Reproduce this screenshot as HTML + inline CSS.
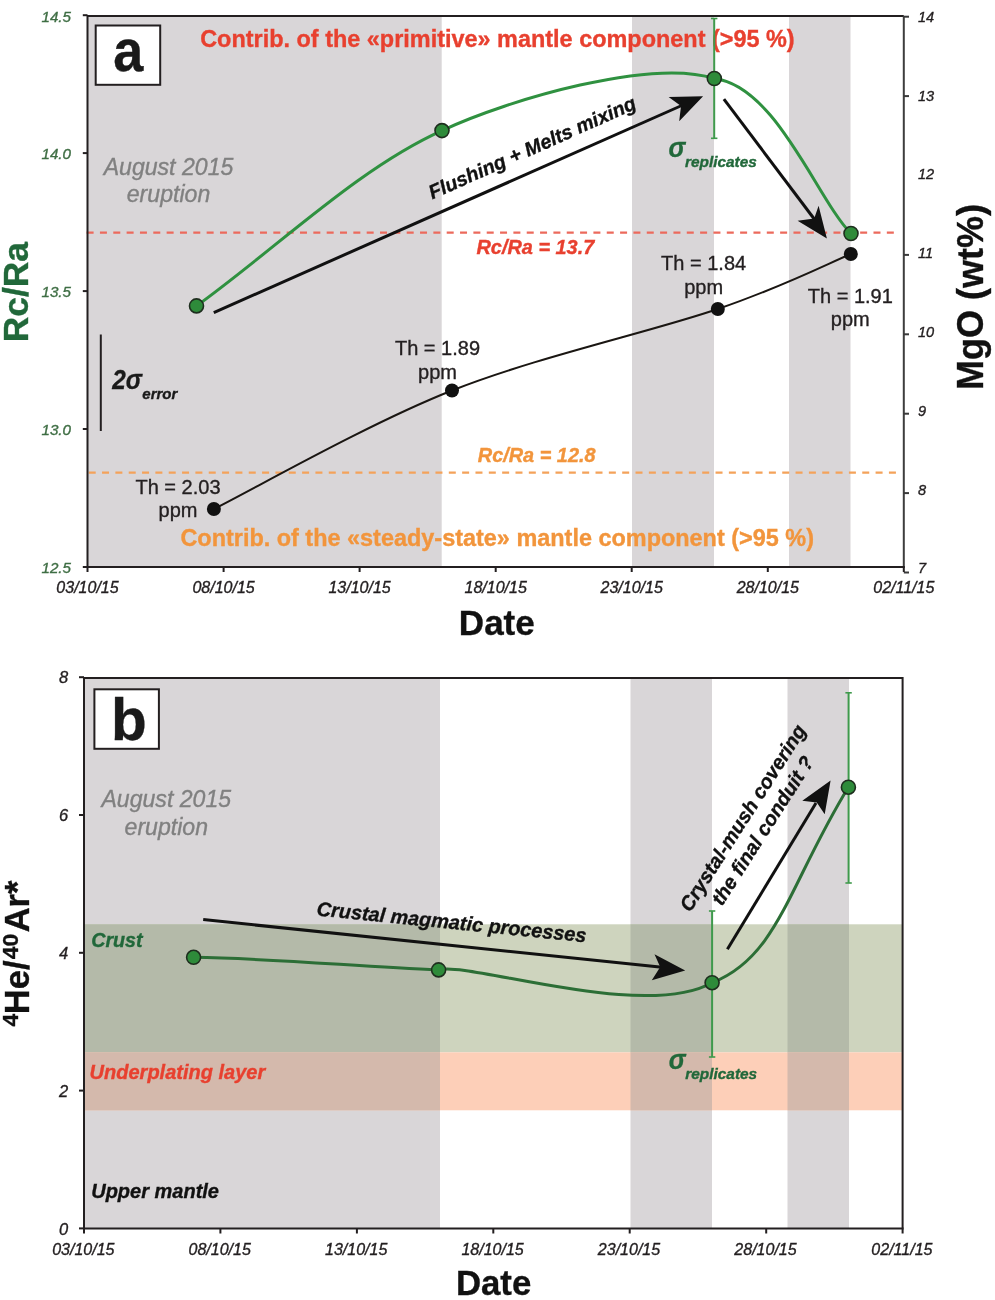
<!DOCTYPE html><html><head><meta charset="utf-8"><style>html,body{margin:0;padding:0;background:#fff;}svg{display:block;will-change:transform;}text{font-family:"Liberation Sans",sans-serif;}</style></head><body>
<svg width="995" height="1300" viewBox="0 0 995 1300">
<rect width="995" height="1300" fill="#fff"/>
<rect x="87.5" y="16.0" width="354.2" height="551.0" fill="#d9d6d8"/>
<rect x="632.0" y="16.0" width="82.0" height="551.0" fill="#d9d6d8"/>
<rect x="789.0" y="16.0" width="61.5" height="551.0" fill="#d9d6d8"/>
<line x1="86.6" y1="232.7" x2="897" y2="232.7" stroke="#ec6a5c" stroke-width="2.2" stroke-dasharray="7 6.337"/>
<line x1="88.7" y1="472.7" x2="897" y2="472.7" stroke="#f4a25a" stroke-width="2.2" stroke-dasharray="7 6.337"/>
<rect x="95.7" y="25.5" width="64.5" height="59.3" fill="#fff" stroke="#231f20" stroke-width="2"/>
<text x="0" y="0" font-size="60" font-weight="bold" fill="#1a1a1a" transform="translate(113.2 71.1) scale(0.9 1)" stroke="#1a1a1a" stroke-width="0.35">a</text>
<text x="200.2" y="46.8" font-size="23.45" font-weight="bold" fill="#e8402f" stroke="#e8402f" stroke-width="0.35">Contrib. of the «primitive» mantle component (&gt;95 %)</text>
<text x="168.5" y="174.6" font-size="23.1" font-style="italic" fill="#808080" text-anchor="middle" stroke="#808080" stroke-width="0.35">August 2015</text>
<text x="168.5" y="202.3" font-size="23.1" font-style="italic" fill="#808080" text-anchor="middle" stroke="#808080" stroke-width="0.35">eruption</text>
<text x="476.5" y="253.6" font-size="19.9" font-weight="bold" font-style="italic" fill="#e8402f" stroke="#e8402f" stroke-width="0.35">Rc/Ra = 13.7</text>
<text x="477.8" y="462.2" font-size="19.9" font-weight="bold" font-style="italic" fill="#f2953c" stroke="#f2953c" stroke-width="0.35">Rc/Ra = 12.8</text>
<text x="180.4" y="545.6" font-size="23.45" font-weight="bold" fill="#f2953c" stroke="#f2953c" stroke-width="0.35">Contrib. of the «steady-state» mantle component (&gt;95 %)</text>
<line x1="100.8" y1="334.5" x2="100.8" y2="431" stroke="#231f20" stroke-width="2"/>
<text x="0" y="0" font-size="28.3" font-weight="bold" font-style="italic" fill="#1a1a1a" transform="translate(112.3 388.5) scale(0.86 1)" stroke="#1a1a1a" stroke-width="0.35">2σ</text>
<text x="142.3" y="399" font-size="15" font-weight="bold" font-style="italic" fill="#1a1a1a" stroke="#1a1a1a" stroke-width="0.35">error</text>
<text x="178.0" y="493.7" font-size="20" fill="#231f20" text-anchor="middle" stroke="#231f20" stroke-width="0.35">Th = 2.03</text>
<text x="178.0" y="517.3" font-size="20" fill="#231f20" text-anchor="middle" stroke="#231f20" stroke-width="0.35">ppm</text>
<text x="437.5" y="354.9" font-size="20" fill="#231f20" text-anchor="middle" stroke="#231f20" stroke-width="0.35">Th = 1.89</text>
<text x="437.5" y="378.5" font-size="20" fill="#231f20" text-anchor="middle" stroke="#231f20" stroke-width="0.35">ppm</text>
<text x="703.6" y="270.0" font-size="20" fill="#231f20" text-anchor="middle" stroke="#231f20" stroke-width="0.35">Th = 1.84</text>
<text x="703.6" y="293.6" font-size="20" fill="#231f20" text-anchor="middle" stroke="#231f20" stroke-width="0.35">ppm</text>
<text x="850.3" y="302.8" font-size="20" fill="#231f20" text-anchor="middle" stroke="#231f20" stroke-width="0.35">Th = 1.91</text>
<text x="850.3" y="326.4" font-size="20" fill="#231f20" text-anchor="middle" stroke="#231f20" stroke-width="0.35">ppm</text>
<path d="M213.9,509.0 C253.6,489.2 368.0,423.8 452.0,390.5 C536.0,357.2 651.3,331.8 717.8,309.0 C784.3,286.2 828.6,263.2 850.8,254.0" fill="none" stroke="#1a1612" stroke-width="2"/>
<circle cx="213.9" cy="509.0" r="7" fill="#111"/>
<circle cx="452.0" cy="390.5" r="7" fill="#111"/>
<circle cx="717.8" cy="309.0" r="7" fill="#111"/>
<circle cx="850.8" cy="254.0" r="7" fill="#111"/>
<line x1="714.2" y1="18" x2="714.2" y2="138.5" stroke="#3f9a4c" stroke-width="2"/>
<line x1="711" y1="18.5" x2="717.4" y2="18.5" stroke="#3f9a4c" stroke-width="1.6"/>
<line x1="711" y1="138.3" x2="717.4" y2="138.3" stroke="#3f9a4c" stroke-width="1.6"/>
<path d="M196.5,305.9 C278.1,246.9 358.1,168.3 442.0,130.6 C509.9,98.9 651.6,58.3 714.3,78.5 C776.2,86.1 817.2,199.4 851.0,233.5" fill="none" stroke="#2f9140" stroke-width="3"/>
<circle cx="196.5" cy="305.9" r="7" fill="#2e8b3a" stroke="#1e2e1e" stroke-width="1.6"/>
<circle cx="442.0" cy="130.6" r="7" fill="#2e8b3a" stroke="#1e2e1e" stroke-width="1.6"/>
<circle cx="714.3" cy="78.5" r="7" fill="#2e8b3a" stroke="#1e2e1e" stroke-width="1.6"/>
<circle cx="851.0" cy="233.5" r="7" fill="#2e8b3a" stroke="#1e2e1e" stroke-width="1.6"/>
<line x1="213.8" y1="312.6" x2="684" y2="104.5" stroke="#111" stroke-width="3"/>
<path d="M703.1,96.3 L668.6,97.1 L681,106 L679.2,121.3 Z" fill="#111"/>
<line x1="723.9" y1="99.1" x2="815" y2="220" stroke="#111" stroke-width="3"/>
<path d="M826.9,238.4 L818.6,205.8 L814.2,218.5 L797.6,220.8 Z" fill="#111"/>
<text x="0" y="0" font-size="19.8" font-weight="bold" font-style="italic" fill="#111" transform="translate(432.2 199.6) rotate(-24)" stroke="#111" stroke-width="0.35">Flushing + Melts mixing</text>
<text x="0" y="0" font-size="27.5" font-weight="bold" font-style="italic" fill="#21683a" transform="translate(668.5 157.2) scale(0.92 1)" stroke="#21683a" stroke-width="0.35">σ</text>
<text x="685" y="167.2" font-size="15.4" font-weight="bold" font-style="italic" fill="#21683a" stroke="#21683a" stroke-width="0.35">replicates</text>
<path d="M87.5,567.0 L87.5,16.0 L903.8,16.0" fill="none" stroke="#231f20" stroke-width="2"/>
<line x1="903.8" y1="16.0" x2="903.8" y2="567.0" stroke="#3d3d3d" stroke-width="2"/>
<line x1="86.5" y1="567.0" x2="904.8" y2="567.0" stroke="#231f20" stroke-width="2"/>
<line x1="82.8" y1="15.2" x2="87.5" y2="15.2" stroke="#231f20" stroke-width="2"/>
<text x="71" y="21.5" font-size="15.2" font-style="italic" fill="#3f6e44" text-anchor="end" stroke="#3f6e44" stroke-width="0.35">14.5</text>
<line x1="82.8" y1="153.1" x2="87.5" y2="153.1" stroke="#231f20" stroke-width="2"/>
<text x="71" y="159.4" font-size="15.2" font-style="italic" fill="#3f6e44" text-anchor="end" stroke="#3f6e44" stroke-width="0.35">14.0</text>
<line x1="82.8" y1="291.1" x2="87.5" y2="291.1" stroke="#231f20" stroke-width="2"/>
<text x="71" y="297.4" font-size="15.2" font-style="italic" fill="#3f6e44" text-anchor="end" stroke="#3f6e44" stroke-width="0.35">13.5</text>
<line x1="82.8" y1="429.0" x2="87.5" y2="429.0" stroke="#231f20" stroke-width="2"/>
<text x="71" y="435.3" font-size="15.2" font-style="italic" fill="#3f6e44" text-anchor="end" stroke="#3f6e44" stroke-width="0.35">13.0</text>
<line x1="82.8" y1="567.0" x2="87.5" y2="567.0" stroke="#231f20" stroke-width="2"/>
<text x="71" y="573.3" font-size="15.2" font-style="italic" fill="#3f6e44" text-anchor="end" stroke="#3f6e44" stroke-width="0.35">12.5</text>
<line x1="903.8" y1="16.7" x2="909" y2="16.7" stroke="#3a3a3a" stroke-width="2"/>
<text x="918" y="21.8" font-size="14.6" font-style="italic" fill="#231f20" stroke="#231f20" stroke-width="0.35">14</text>
<line x1="903.8" y1="96.1" x2="909" y2="96.1" stroke="#3a3a3a" stroke-width="2"/>
<text x="918" y="100.6" font-size="14.6" font-style="italic" fill="#231f20" stroke="#231f20" stroke-width="0.35">13</text>
<text x="918" y="179.4" font-size="14.6" font-style="italic" fill="#231f20" stroke="#231f20" stroke-width="0.35">12</text>
<line x1="903.8" y1="254.9" x2="909" y2="254.9" stroke="#3a3a3a" stroke-width="2"/>
<text x="918" y="258.2" font-size="14.6" font-style="italic" fill="#231f20" stroke="#231f20" stroke-width="0.35">11</text>
<line x1="903.8" y1="334.3" x2="909" y2="334.3" stroke="#3a3a3a" stroke-width="2"/>
<text x="918" y="337.0" font-size="14.6" font-style="italic" fill="#231f20" stroke="#231f20" stroke-width="0.35">10</text>
<line x1="903.8" y1="413.7" x2="909" y2="413.7" stroke="#3a3a3a" stroke-width="2"/>
<text x="918" y="415.8" font-size="14.6" font-style="italic" fill="#231f20" stroke="#231f20" stroke-width="0.35">9</text>
<line x1="903.8" y1="493.1" x2="909" y2="493.1" stroke="#3a3a3a" stroke-width="2"/>
<text x="918" y="494.6" font-size="14.6" font-style="italic" fill="#231f20" stroke="#231f20" stroke-width="0.35">8</text>
<line x1="903.8" y1="572.5" x2="909" y2="572.5" stroke="#3a3a3a" stroke-width="2"/>
<text x="918" y="573.4" font-size="14.6" font-style="italic" fill="#231f20" stroke="#231f20" stroke-width="0.35">7</text>
<line x1="87.5" y1="567.0" x2="87.5" y2="572" stroke="#231f20" stroke-width="2"/>
<text x="87.5" y="592.6" font-size="16" font-style="italic" fill="#231f20" text-anchor="middle" stroke="#231f20" stroke-width="0.35">03/10/15</text>
<line x1="223.6" y1="567.0" x2="223.6" y2="572" stroke="#231f20" stroke-width="2"/>
<text x="223.6" y="592.6" font-size="16" font-style="italic" fill="#231f20" text-anchor="middle" stroke="#231f20" stroke-width="0.35">08/10/15</text>
<line x1="359.6" y1="567.0" x2="359.6" y2="572" stroke="#231f20" stroke-width="2"/>
<text x="359.6" y="592.6" font-size="16" font-style="italic" fill="#231f20" text-anchor="middle" stroke="#231f20" stroke-width="0.35">13/10/15</text>
<line x1="495.7" y1="567.0" x2="495.7" y2="572" stroke="#231f20" stroke-width="2"/>
<text x="495.7" y="592.6" font-size="16" font-style="italic" fill="#231f20" text-anchor="middle" stroke="#231f20" stroke-width="0.35">18/10/15</text>
<line x1="631.7" y1="567.0" x2="631.7" y2="572" stroke="#231f20" stroke-width="2"/>
<text x="631.7" y="592.6" font-size="16" font-style="italic" fill="#231f20" text-anchor="middle" stroke="#231f20" stroke-width="0.35">23/10/15</text>
<line x1="767.8" y1="567.0" x2="767.8" y2="572" stroke="#231f20" stroke-width="2"/>
<text x="767.8" y="592.6" font-size="16" font-style="italic" fill="#231f20" text-anchor="middle" stroke="#231f20" stroke-width="0.35">28/10/15</text>
<line x1="903.8" y1="567.0" x2="903.8" y2="572" stroke="#231f20" stroke-width="2"/>
<text x="903.8" y="592.6" font-size="16" font-style="italic" fill="#231f20" text-anchor="middle" stroke="#231f20" stroke-width="0.35">02/11/15</text>
<text x="0" y="0" font-size="35.4" font-weight="bold" fill="#21683a" text-anchor="middle" transform="translate(28.2 292.2) rotate(-90)" stroke="#21683a" stroke-width="0.35">Rc/Ra</text>
<text x="0" y="0" font-size="36" font-weight="bold" fill="#111" text-anchor="middle" transform="translate(982.9 297.0) rotate(-90)" stroke="#111" stroke-width="0.35">MgO (wt%)</text>
<text x="496.8" y="635.1" font-size="35" font-weight="bold" fill="#111" text-anchor="middle" stroke="#111" stroke-width="0.35">Date</text>
<rect x="84.0" y="678.0" width="356.0" height="550.5" fill="#d9d6d8"/>
<rect x="630.5" y="678.0" width="81.5" height="550.5" fill="#d9d6d8"/>
<rect x="787.5" y="678.0" width="61.5" height="550.5" fill="#d9d6d8"/>
<rect x="84.0" y="924.3" width="818.6" height="128" fill="#ced4be"/>
<rect x="84.0" y="1052.3" width="818.6" height="58" fill="#fdcfb8"/>
<rect x="84.0" y="924.3" width="356.0" height="128" fill="#b4baa9"/>
<rect x="84.0" y="1052.3" width="356.0" height="58" fill="#d4b9ac"/>
<rect x="630.5" y="924.3" width="81.5" height="128" fill="#b4baa9"/>
<rect x="630.5" y="1052.3" width="81.5" height="58" fill="#d4b9ac"/>
<rect x="787.5" y="924.3" width="61.5" height="128" fill="#b4baa9"/>
<rect x="787.5" y="1052.3" width="61.5" height="58" fill="#d4b9ac"/>
<rect x="94.4" y="689.3" width="64.5" height="59.5" fill="#fff" stroke="#231f20" stroke-width="2"/>
<text x="0" y="0" font-size="58.5" font-weight="bold" fill="#1a1a1a" transform="translate(111.1 739.6)" stroke="#1a1a1a" stroke-width="0.35">b</text>
<text x="166.3" y="807" font-size="23.1" font-style="italic" fill="#808080" text-anchor="middle" stroke="#808080" stroke-width="0.35">August 2015</text>
<text x="166.3" y="834.5" font-size="23.1" font-style="italic" fill="#808080" text-anchor="middle" stroke="#808080" stroke-width="0.35">eruption</text>
<text x="91.2" y="947.3" font-size="19.7" font-weight="bold" font-style="italic" fill="#21683a" stroke="#21683a" stroke-width="0.35">Crust</text>
<text x="89.6" y="1079.4" font-size="20" font-weight="bold" font-style="italic" fill="#e8402f" stroke="#e8402f" stroke-width="0.35">Underplating layer</text>
<text x="91.2" y="1197.9" font-size="20" font-weight="bold" font-style="italic" fill="#111" stroke="#111" stroke-width="0.35">Upper mantle</text>
<line x1="712.1" y1="911.0" x2="712.1" y2="1057.0" stroke="#3f9a4c" stroke-width="2"/>
<line x1="708.9" y1="911.0" x2="715.3" y2="911.0" stroke="#3f9a4c" stroke-width="1.6"/>
<line x1="708.9" y1="1057.0" x2="715.3" y2="1057.0" stroke="#3f9a4c" stroke-width="1.6"/>
<line x1="848.6" y1="692.8" x2="848.6" y2="883.0" stroke="#3f9a4c" stroke-width="2"/>
<line x1="845.4" y1="692.8" x2="851.8" y2="692.8" stroke="#3f9a4c" stroke-width="1.6"/>
<line x1="845.4" y1="883.0" x2="851.8" y2="883.0" stroke="#3f9a4c" stroke-width="1.6"/>
<path d="M193.6,957.3 C275,958.5 357,966.5 438.6,969.9 C465.3,960.3 643.0,1021.3 712.1,982.7 C778.1,957.1 789.0,883.9 848.4,787.2" fill="none" stroke="#2c6e36" stroke-width="3"/>
<circle cx="193.6" cy="957.3" r="7" fill="#2e8b3a" stroke="#1e2e1e" stroke-width="1.6"/>
<circle cx="438.6" cy="969.9" r="7" fill="#2e8b3a" stroke="#1e2e1e" stroke-width="1.6"/>
<circle cx="712.1" cy="982.7" r="7" fill="#2e8b3a" stroke="#1e2e1e" stroke-width="1.6"/>
<circle cx="848.4" cy="787.2" r="7" fill="#2e8b3a" stroke="#1e2e1e" stroke-width="1.6"/>
<line x1="203.2" y1="919.6" x2="662" y2="967.2" stroke="#111" stroke-width="3"/>
<path d="M685.2,970.4 L654.5,954.2 L660.2,967.0 L651.8,980.2 Z" fill="#111"/>
<line x1="727.4" y1="949.3" x2="816" y2="803" stroke="#111" stroke-width="3"/>
<path d="M830.6,780.4 L802.3,800.7 L816.8,802.6 L824.7,814.2 Z" fill="#111"/>
<text x="0" y="0" font-size="19.9" font-weight="bold" font-style="italic" fill="#111" transform="translate(316.3 915.4) rotate(5.7)" stroke="#111" stroke-width="0.35">Crustal magmatic processes</text>
<text x="0" y="0" font-size="20" font-weight="bold" font-style="italic" fill="#111" text-anchor="middle" transform="translate(748.5 821.5) rotate(-57.5)" stroke="#111" stroke-width="0.35">Crystal-mush covering</text>
<text x="0" y="0" font-size="20" font-weight="bold" font-style="italic" fill="#111" text-anchor="middle" transform="translate(768.3 834.2) rotate(-57.5)" stroke="#111" stroke-width="0.35">the final conduit ?</text>
<text x="0" y="0" font-size="27.5" font-weight="bold" font-style="italic" fill="#21683a" transform="translate(668.8 1069.2) scale(0.92 1)" stroke="#21683a" stroke-width="0.35">σ</text>
<text x="685.3" y="1079.3" font-size="15.4" font-weight="bold" font-style="italic" fill="#21683a" stroke="#21683a" stroke-width="0.35">replicates</text>
<path d="M84.0,1228.5 L84.0,678.0 L902.6,678.0 L902.6,1228.5" fill="none" stroke="#231f20" stroke-width="2"/>
<line x1="83.0" y1="1228.5" x2="903.6" y2="1228.5" stroke="#231f20" stroke-width="2"/>
<line x1="79" y1="677.2" x2="84.0" y2="677.2" stroke="#231f20" stroke-width="2"/>
<text x="68.3" y="683.4" font-size="16.5" font-style="italic" fill="#231f20" text-anchor="end" stroke="#231f20" stroke-width="0.35">8</text>
<line x1="79" y1="815.0" x2="84.0" y2="815.0" stroke="#231f20" stroke-width="2"/>
<text x="68.3" y="821.2" font-size="16.5" font-style="italic" fill="#231f20" text-anchor="end" stroke="#231f20" stroke-width="0.35">6</text>
<line x1="79" y1="952.8" x2="84.0" y2="952.8" stroke="#231f20" stroke-width="2"/>
<text x="68.3" y="959.0" font-size="16.5" font-style="italic" fill="#231f20" text-anchor="end" stroke="#231f20" stroke-width="0.35">4</text>
<line x1="79" y1="1090.6" x2="84.0" y2="1090.6" stroke="#231f20" stroke-width="2"/>
<text x="68.3" y="1096.8" font-size="16.5" font-style="italic" fill="#231f20" text-anchor="end" stroke="#231f20" stroke-width="0.35">2</text>
<line x1="79" y1="1228.4" x2="84.0" y2="1228.4" stroke="#231f20" stroke-width="2"/>
<text x="68.3" y="1234.6" font-size="16.5" font-style="italic" fill="#231f20" text-anchor="end" stroke="#231f20" stroke-width="0.35">0</text>
<line x1="84.0" y1="1228.5" x2="84.0" y2="1233.5" stroke="#231f20" stroke-width="2"/>
<text x="83.3" y="1254.6" font-size="16" font-style="italic" fill="#231f20" text-anchor="middle" stroke="#231f20" stroke-width="0.35">03/10/15</text>
<line x1="220.4" y1="1228.5" x2="220.4" y2="1233.5" stroke="#231f20" stroke-width="2"/>
<text x="219.7" y="1254.6" font-size="16" font-style="italic" fill="#231f20" text-anchor="middle" stroke="#231f20" stroke-width="0.35">08/10/15</text>
<line x1="356.9" y1="1228.5" x2="356.9" y2="1233.5" stroke="#231f20" stroke-width="2"/>
<text x="356.2" y="1254.6" font-size="16" font-style="italic" fill="#231f20" text-anchor="middle" stroke="#231f20" stroke-width="0.35">13/10/15</text>
<line x1="493.3" y1="1228.5" x2="493.3" y2="1233.5" stroke="#231f20" stroke-width="2"/>
<text x="492.6" y="1254.6" font-size="16" font-style="italic" fill="#231f20" text-anchor="middle" stroke="#231f20" stroke-width="0.35">18/10/15</text>
<line x1="629.7" y1="1228.5" x2="629.7" y2="1233.5" stroke="#231f20" stroke-width="2"/>
<text x="629.0" y="1254.6" font-size="16" font-style="italic" fill="#231f20" text-anchor="middle" stroke="#231f20" stroke-width="0.35">23/10/15</text>
<line x1="766.2" y1="1228.5" x2="766.2" y2="1233.5" stroke="#231f20" stroke-width="2"/>
<text x="765.5" y="1254.6" font-size="16" font-style="italic" fill="#231f20" text-anchor="middle" stroke="#231f20" stroke-width="0.35">28/10/15</text>
<line x1="902.6" y1="1228.5" x2="902.6" y2="1233.5" stroke="#231f20" stroke-width="2"/>
<text x="901.9" y="1254.6" font-size="16" font-style="italic" fill="#231f20" text-anchor="middle" stroke="#231f20" stroke-width="0.35">02/11/15</text>
<text font-weight="bold" fill="#111" transform="translate(29.3 0) rotate(-90)" stroke="#111" stroke-width="0.35"><tspan x="-1026.5" y="-11.6" font-size="22.8">4</tspan><tspan x="-1014.2" y="0" font-size="34.5">He/</tspan><tspan x="-959.3" y="-11.6" font-size="22.8">40</tspan><tspan x="-932.3" y="0" font-size="34.5">Ar*</tspan></text>
<text x="493.6" y="1295.3" font-size="34.8" font-weight="bold" fill="#111" text-anchor="middle" stroke="#111" stroke-width="0.35">Date</text>
</svg></body></html>
